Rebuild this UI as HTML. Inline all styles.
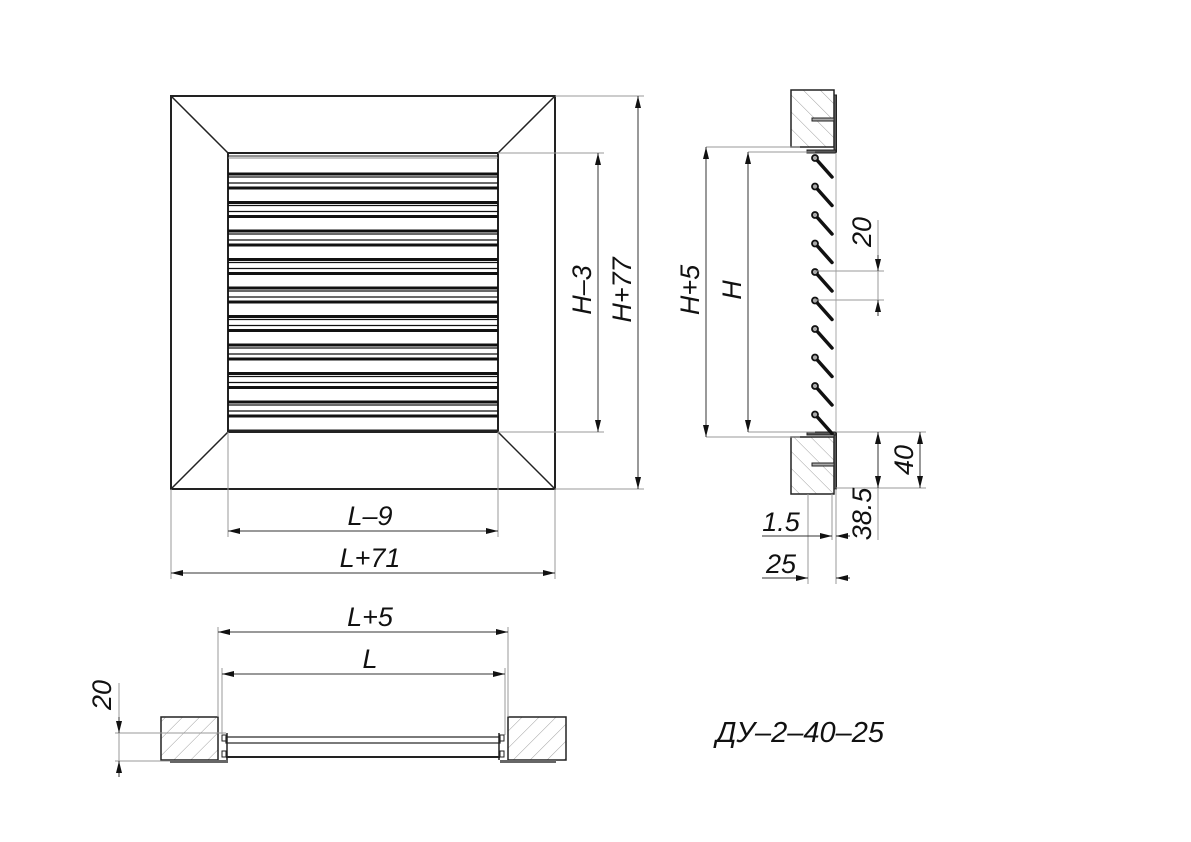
<!DOCTYPE html>
<html><head><meta charset="utf-8"><style>
html,body{margin:0;padding:0;background:#fff}
svg{display:block}
text{font-family:"Liberation Sans Narrow","Liberation Sans",sans-serif;font-style:italic;font-size:27px;fill:#111}
</style></head><body>
<svg width="1191" height="842" viewBox="0 0 1191 842" xmlns="http://www.w3.org/2000/svg">
<defs>
<marker id="a" viewBox="0 0 12 6" refX="12" refY="3" markerWidth="12" markerHeight="6" orient="auto-start-reverse" markerUnits="userSpaceOnUse"><path d="M0,0 L12,3 L0,6 z" fill="#111"/></marker>
<pattern id="h" patternUnits="userSpaceOnUse" width="12" height="12" patternTransform="rotate(45)"><line x1="0" y1="0" x2="0" y2="12" stroke="#888" stroke-width="0.8"/></pattern>
<pattern id="h2" patternUnits="userSpaceOnUse" width="12" height="12" patternTransform="rotate(-45)"><line x1="0" y1="0" x2="0" y2="12" stroke="#888" stroke-width="0.8"/></pattern>
</defs>

<!-- FRONT VIEW -->
<g stroke="#222" fill="none">
<rect x="171" y="96" width="384" height="393" stroke-width="2"/>
<line x1="171" y1="96" x2="228" y2="153" stroke-width="1.5"/>
<line x1="555" y1="96" x2="498" y2="153" stroke-width="1.5"/>
<line x1="171" y1="489" x2="228" y2="432" stroke-width="1.5"/>
<line x1="555" y1="489" x2="498" y2="432" stroke-width="1.5"/>
<rect x="228" y="153" width="270" height="279" stroke-width="2"/>
<line x1="228" y1="156" x2="498" y2="156" stroke-width="1"/>
<line x1="228" y1="158" x2="498" y2="158" stroke-width="1" stroke="#888"/>
<line x1="228" y1="431" x2="498" y2="431" stroke-width="3"/>
</g>
<g stroke="#111" fill="none" id="slats">
<g id="s0"><line x1="228" y1="174" x2="498" y2="174" stroke-width="3"/><line x1="228" y1="177" x2="498" y2="177" stroke-width="1.2"/><line x1="228" y1="183" x2="498" y2="183" stroke-width="1.2"/><line x1="228" y1="188" x2="498" y2="188" stroke-width="3"/></g>
<use href="#s0" y="28.5"/><use href="#s0" y="57"/><use href="#s0" y="85.5"/><use href="#s0" y="114"/><use href="#s0" y="142.5"/><use href="#s0" y="171"/><use href="#s0" y="199.5"/><use href="#s0" y="228"/>
</g>

<!-- front dims -->
<g stroke="#999" stroke-width="1">
<line x1="498" y1="153" x2="604" y2="153"/><line x1="498" y1="432" x2="604" y2="432"/>
<line x1="555" y1="96" x2="644" y2="96"/><line x1="555" y1="489" x2="644" y2="489"/>
<line x1="171" y1="489" x2="171" y2="579"/><line x1="555" y1="489" x2="555" y2="579"/>
<line x1="228" y1="432" x2="228" y2="537"/><line x1="498" y1="432" x2="498" y2="537"/>
</g>
<g stroke="#333" stroke-width="1">
<line x1="598" y1="153" x2="598" y2="432" marker-start="url(#a)" marker-end="url(#a)"/>
<line x1="638" y1="96" x2="638" y2="489" marker-start="url(#a)" marker-end="url(#a)"/>
<line x1="228" y1="531" x2="498" y2="531" marker-start="url(#a)" marker-end="url(#a)"/>
<line x1="171" y1="573" x2="555" y2="573" marker-start="url(#a)" marker-end="url(#a)"/>
</g>
<text x="370" y="525" text-anchor="middle">L–9</text>
<text x="370" y="567" text-anchor="middle">L+71</text>
<text transform="translate(591,290) rotate(-90)" text-anchor="middle">H–3</text>
<text transform="translate(631,290) rotate(-90)" text-anchor="middle">H+77</text>

<!-- SIDE VIEW -->
<g stroke="#222" stroke-width="1.5">
<rect x="791" y="90" width="43" height="57" fill="url(#h2)"/>
<rect x="791" y="437" width="43" height="57" fill="url(#h2)"/>
</g>
<g fill="#555" stroke="#222" stroke-width="1">
<rect x="834" y="95" width="2.5" height="57"/>
<rect x="807" y="150" width="29" height="3"/>
<rect x="834" y="432" width="2.5" height="57"/>
<rect x="807" y="432" width="29" height="3"/>
<rect x="812" y="118" width="22" height="3" fill="#aaa"/>
<rect x="812" y="463" width="22" height="3" fill="#aaa"/>
</g>
<line x1="836" y1="153" x2="836" y2="432" stroke="#aaa" stroke-width="1"/>
<g stroke="#111" stroke-width="3.5" stroke-linecap="round">
<g id="b0"><line x1="816" y1="159" x2="832" y2="177"/><circle cx="815" cy="158" r="3" fill="#aaa" stroke-width="1.8"/></g>
<use href="#b0" y="28.5"/><use href="#b0" y="57"/><use href="#b0" y="85.5"/><use href="#b0" y="114"/><use href="#b0" y="142.5"/><use href="#b0" y="171"/><use href="#b0" y="199.5"/><use href="#b0" y="228"/><use href="#b0" y="256.5"/>
</g>
<g stroke="#999" stroke-width="1">
<line x1="706" y1="147" x2="800" y2="147"/><line x1="706" y1="437" x2="800" y2="437"/>
<line x1="748" y1="152" x2="815" y2="152"/><line x1="748" y1="432" x2="815" y2="432"/>
<line x1="815" y1="271" x2="884" y2="271"/><line x1="815" y1="300" x2="884" y2="300"/>
<line x1="836" y1="432" x2="926" y2="432"/><line x1="836" y1="488" x2="926" y2="488"/>
<line x1="808" y1="494" x2="808" y2="584"/><line x1="836" y1="489" x2="836" y2="584"/><line x1="832" y1="494" x2="832" y2="540"/>
<line x1="878" y1="220" x2="878" y2="315"/><line x1="878" y1="488" x2="878" y2="540"/>
</g>
<g stroke="#333" stroke-width="1">
<line x1="706" y1="147" x2="706" y2="437" marker-start="url(#a)" marker-end="url(#a)"/>
<line x1="748" y1="152" x2="748" y2="432" marker-start="url(#a)" marker-end="url(#a)"/>
<line x1="878" y1="255" x2="878" y2="271" marker-end="url(#a)"/>
<line x1="878" y1="316" x2="878" y2="300" marker-end="url(#a)"/>
<line x1="878" y1="432" x2="878" y2="488" marker-start="url(#a)" marker-end="url(#a)"/>
<line x1="920" y1="432" x2="920" y2="488" marker-start="url(#a)" marker-end="url(#a)"/>
<line x1="762" y1="536" x2="832" y2="536" marker-end="url(#a)"/>
<line x1="850" y1="536" x2="836" y2="536" marker-end="url(#a)"/>
<line x1="762" y1="578" x2="808" y2="578" marker-end="url(#a)"/>
<line x1="850" y1="578" x2="836" y2="578" marker-end="url(#a)"/>
</g>
<text transform="translate(699,290) rotate(-90)" text-anchor="middle">H+5</text>
<text transform="translate(741,290) rotate(-90)" text-anchor="middle">H</text>
<text transform="translate(871,232) rotate(-90)" text-anchor="middle">20</text>
<text transform="translate(913,460) rotate(-90)" text-anchor="middle">40</text>
<text transform="translate(871,514) rotate(-90)" text-anchor="middle">38.5</text>
<text x="781" y="531" text-anchor="middle">1.5</text>
<text x="781" y="573" text-anchor="middle">25</text>

<!-- BOTTOM VIEW -->
<g stroke="#222" stroke-width="1.5">
<rect x="161" y="717" width="57" height="43" fill="url(#h)"/>
<rect x="508" y="717" width="58" height="43" fill="url(#h)"/>
</g>
<g stroke="#222" fill="none">
<rect x="226" y="737" width="274" height="6" stroke-width="1.2"/>
<line x1="226" y1="757" x2="500" y2="757" stroke-width="2"/>
<rect x="222" y="735" width="4" height="6" stroke-width="1"/><rect x="222" y="751" width="4" height="6" stroke-width="1"/>
<rect x="500" y="735" width="4" height="6" stroke-width="1"/><rect x="500" y="751" width="4" height="6" stroke-width="1"/>
<line x1="227" y1="733" x2="227" y2="760" stroke-width="1.5"/>
<line x1="499" y1="733" x2="499" y2="760" stroke-width="1.5"/>
</g>
<rect x="170" y="760" width="58" height="3" fill="#666"/>
<rect x="500" y="760" width="56" height="3" fill="#666"/>
<g stroke="#999" stroke-width="1">
<line x1="218" y1="627" x2="218" y2="717"/><line x1="508" y1="627" x2="508" y2="717"/>
<line x1="222" y1="668" x2="222" y2="735"/><line x1="505" y1="668" x2="505" y2="735"/>
<line x1="115" y1="733" x2="226" y2="733"/><line x1="115" y1="761" x2="170" y2="761"/>
<line x1="119" y1="683" x2="119" y2="777"/>
</g>
<g stroke="#333" stroke-width="1">
<line x1="218" y1="632" x2="508" y2="632" marker-start="url(#a)" marker-end="url(#a)"/>
<line x1="222" y1="674" x2="505" y2="674" marker-start="url(#a)" marker-end="url(#a)"/>
<line x1="119" y1="717" x2="119" y2="733" marker-end="url(#a)"/>
<line x1="119" y1="777" x2="119" y2="761" marker-end="url(#a)"/>
</g>
<text x="370" y="626" text-anchor="middle">L+5</text>
<text x="370" y="668" text-anchor="middle">L</text>
<text transform="translate(111,695) rotate(-90)" text-anchor="middle">20</text>

<text x="800" y="742" text-anchor="middle" style="font-size:29px">ДУ–2–40–25</text>
</svg>
</body></html>
